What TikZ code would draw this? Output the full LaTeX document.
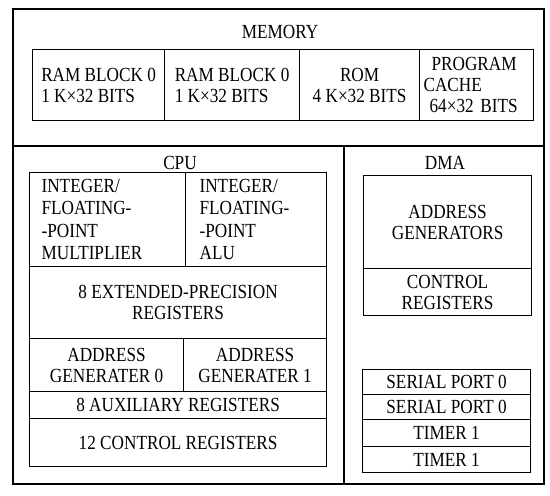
\documentclass[tikz,border=0pt]{standalone}
\usepackage{fontspec}
\setmainfont{Liberation Serif}[FakeStretch=0.86]
\newcommand\dgfont{\fontsize{20}{21}\selectfont}
\newcommand\dgfontb{\fontsize{20}{22.5}\selectfont}
\begin{document}
\begin{tikzpicture}[x=1pt,y=-1pt,
  frame/.style={draw, line width=2pt, inner sep=0pt, anchor=north west},
  divline/.style={line width=1.6pt},
  box/.style={draw, line width=1.2pt, inner sep=0pt, anchor=north west, font=\dgfont, align=center},
  lbox/.style={box, align=left},
  tag/.style={inner sep=0pt, font=\dgfont}]
\useasboundingbox (0,0) rectangle (550,496);
\node[frame, minimum width=531pt, minimum height=475pt] (outer) at (12,8) {};
% dividers
\coordinate (hl) at (12,146);
\coordinate (hr) at (543,146);
\coordinate (vt) at (344,146);
\coordinate (vb) at (344,483);
\draw[divline] (hl) -- (hr);
\draw[divline] (vt) -- (vb);
% memory
\node[tag] (memlbl) at (280,32) {MEMORY};
\node[lbox, minimum width=132pt, minimum height=71pt] (ram0) at (32,49) {RAM BLOCK 0\\1 K×32 BITS};
\node[lbox, minimum width=135pt, minimum height=71pt] (ram1) at (164,49) {RAM BLOCK 0\\1 K×32 BITS};
\node[box, minimum width=120pt, minimum height=71pt] (rom) at (299,49) {ROM\\4 K×32 BITS};
\node[lbox, text width=106pt, inner xsep=4pt, minimum height=71pt] (cache) at (419,49) {\hspace*{8pt}PROGRAM\\CACHE\\\hspace*{6pt}64×32 BITS};
% CPU
\node[tag] (cpulbl) at (180,163) {CPU};
\node[lbox, font=\dgfontb, text width=132pt, inner xsep=12pt, minimum height=94pt] (mult) at (29,172) {INTEGER/\\FLOATING-\\-POINT\\MULTIPLIER};
\node[lbox, font=\dgfontb, text width=113pt, inner xsep=14pt, minimum height=94pt] (alu) at (185,172) {INTEGER/\\FLOATING-\\-POINT\\ALU};
\node[box, minimum width=297pt, minimum height=72pt] (ext) at (29,266) {8 EXTENDED-PRECISION\\REGISTERS};
\node[box, minimum width=154pt, minimum height=53pt] (ag0) at (29,338) {ADDRESS\\GENERATER 0};
\node[box, minimum width=143pt, minimum height=53pt] (ag1) at (183,338) {ADDRESS\\GENERATER 1};
\node[box, minimum width=297pt, minimum height=27pt] (aux) at (29,391) {8 AUXILIARY REGISTERS};
\node[box, minimum width=297pt, minimum height=48pt] (ctrl) at (29,418) {12 CONTROL REGISTERS};
% DMA
\node[tag] (dmalbl) at (445,163) {DMA};
\node[box, minimum width=168pt, minimum height=93pt] (dag) at (363,175) {ADDRESS\\GENERATORS};
\node[box, minimum width=168pt, minimum height=47pt] (dctrl) at (363,268) {CONTROL\\REGISTERS};
\node[box, minimum width=168pt, minimum height=25pt] (sp0) at (362,369) {SERIAL PORT 0};
\node[box, minimum width=168pt, minimum height=25pt] (sp1) at (362,394) {SERIAL PORT 0};
\node[box, minimum width=168pt, minimum height=27pt] (t1) at (362,419) {TIMER 1};
\node[box, minimum width=168pt, minimum height=26pt] (t2) at (362,446) {TIMER 1};
\end{tikzpicture}
\end{document}
